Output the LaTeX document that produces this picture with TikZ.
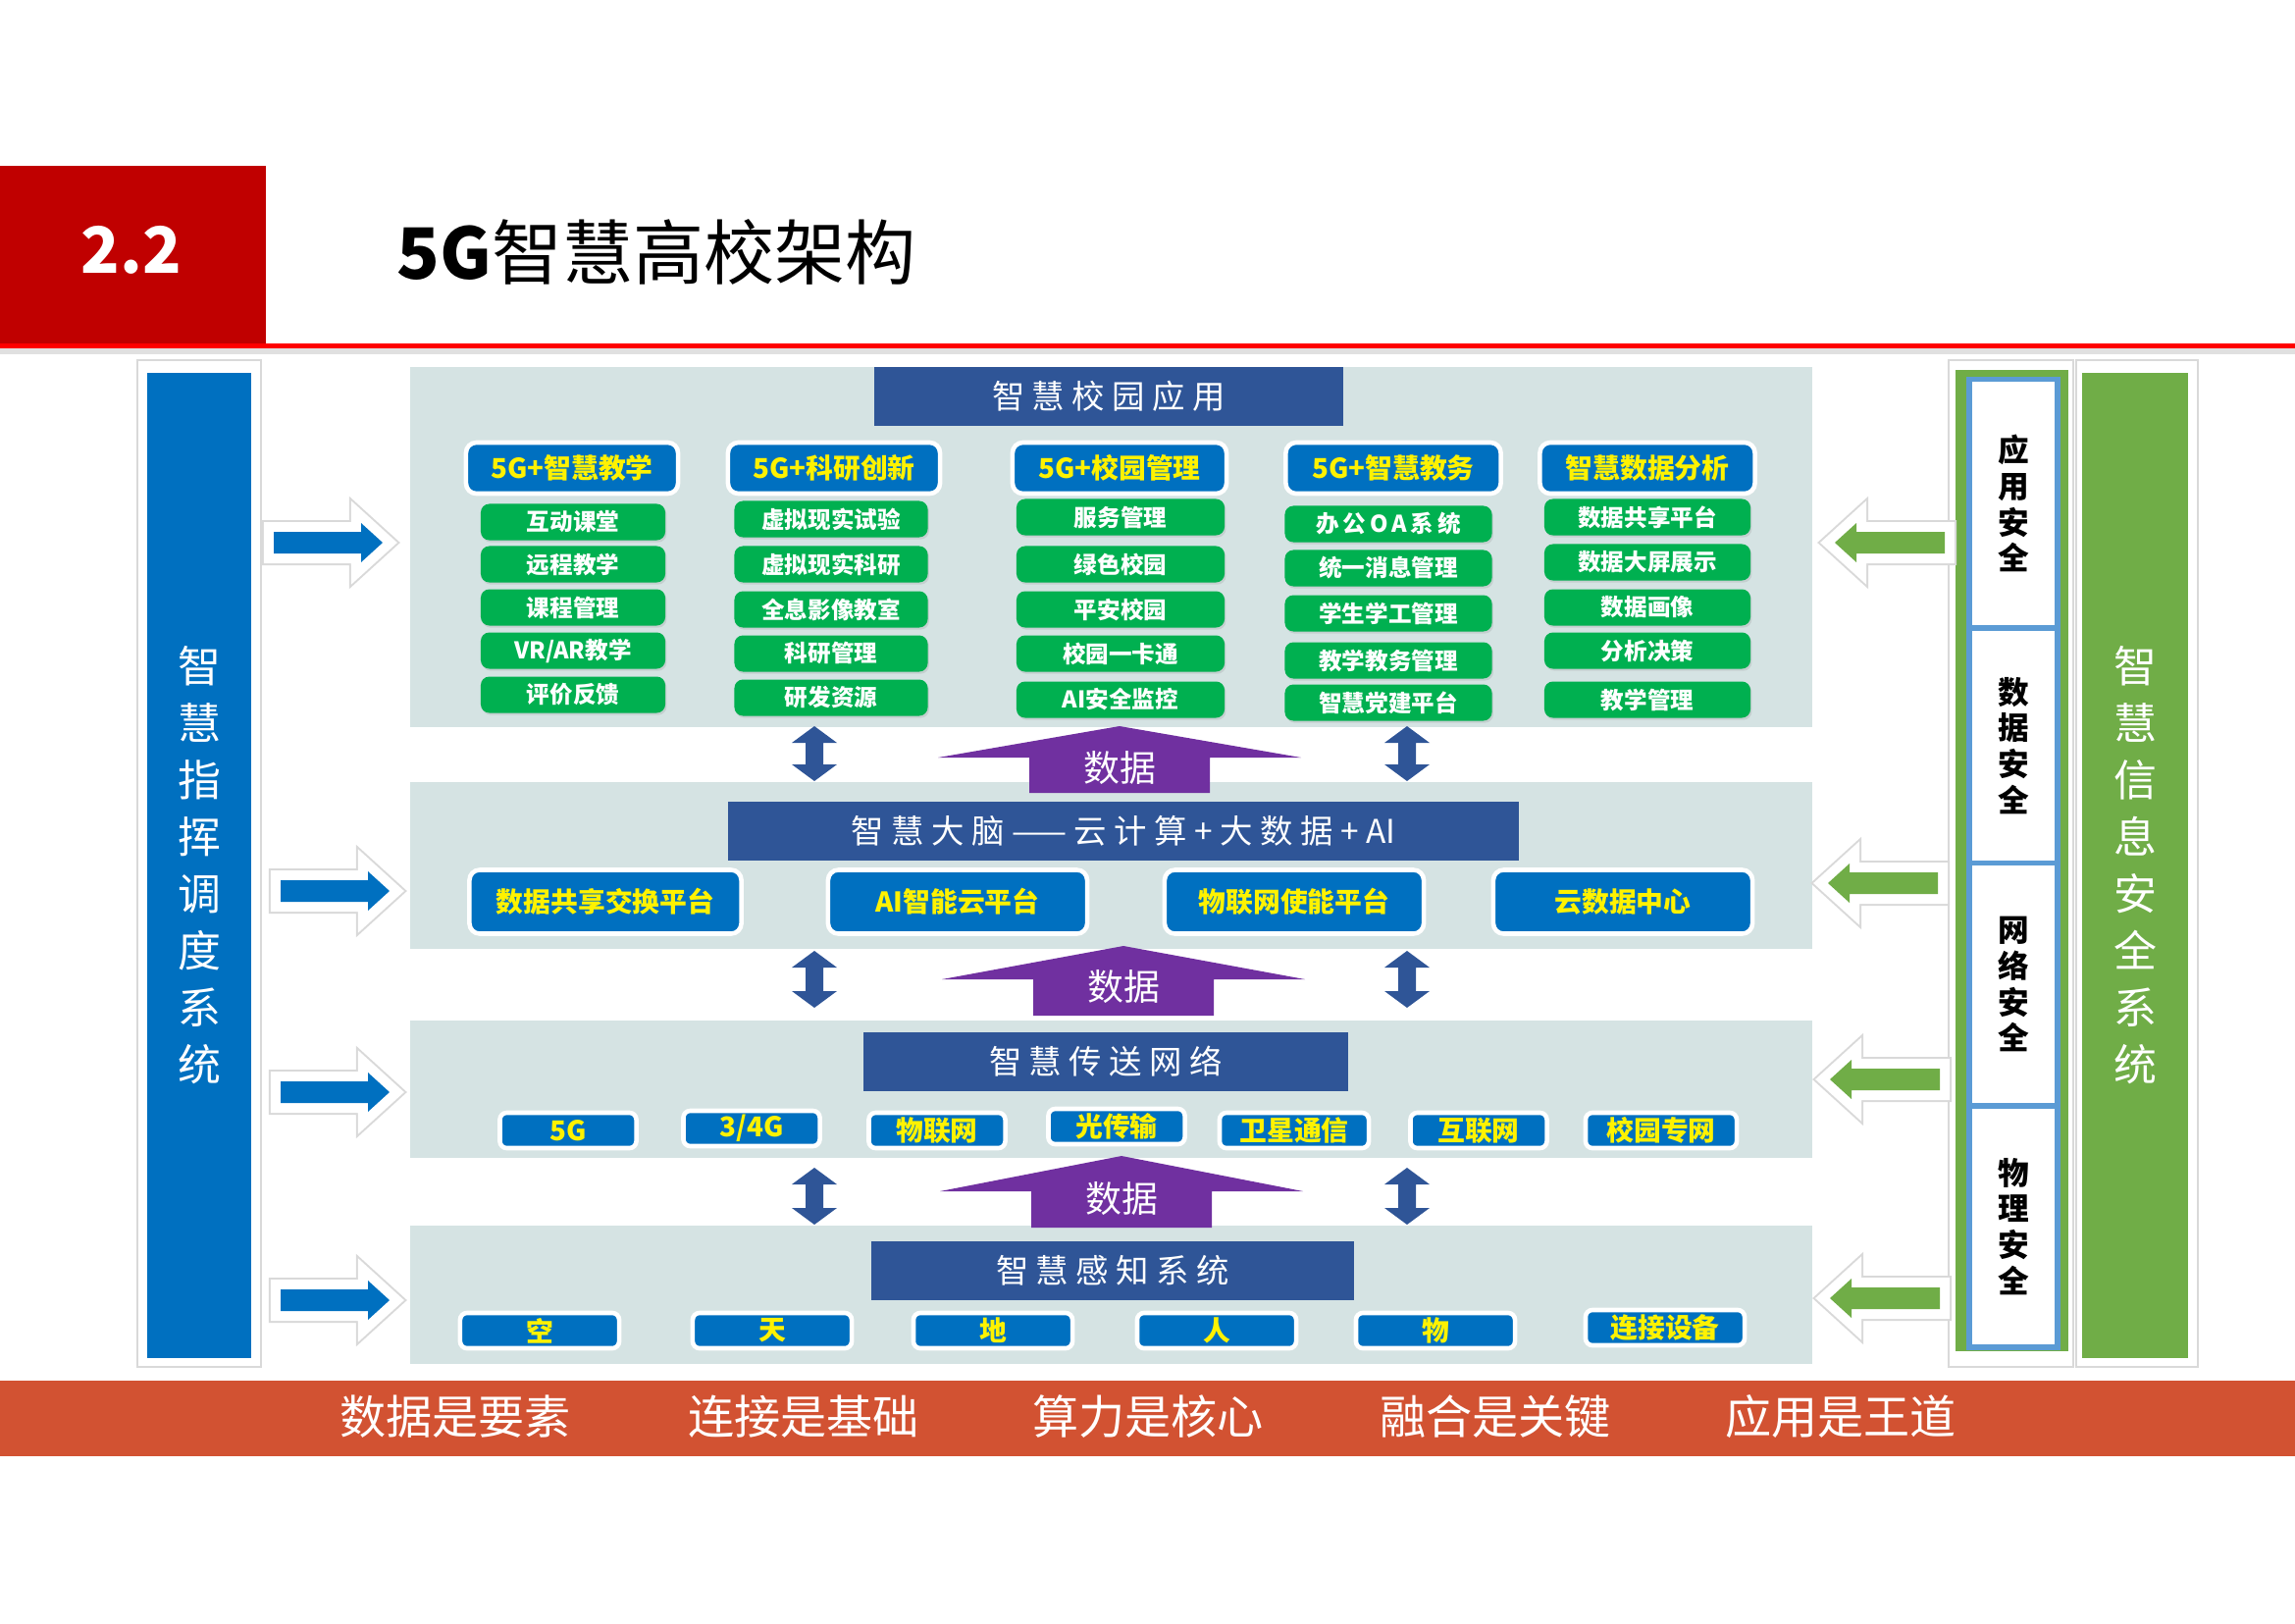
\documentclass[tikz,border=0pt]{standalone}
\usepackage{fontspec}
\setmainfont{Noto Sans CJK SC}
\usetikzlibrary{shadows}

\definecolor{titlered}{HTML}{C00000}
\definecolor{linered}{HTML}{FF0000}
\definecolor{layerbg}{HTML}{D5E3E3}
\definecolor{barblue}{HTML}{2F5597}
\definecolor{boxblue}{HTML}{0070C0}
\definecolor{itemgreen}{HTML}{00B050}
\definecolor{dataviolet}{HTML}{7030A0}
\definecolor{secgreen}{HTML}{70AD47}
\definecolor{secblue}{HTML}{5B9BD5}
\definecolor{bandred}{HTML}{D25232}

\begin{document}
\begin{tikzpicture}[x=0.01cm,y=-0.01cm]
\tikzstyle{layer} = [fill=layerbg]
\tikzstyle{bar} = [rectangle, fill=barblue, text=white, inner sep=0pt,
font=\fontsize{9.5}{11}\selectfont]
\tikzstyle{head} = [rectangle, draw=white, line width=1.3pt, fill=boxblue,
rounded corners=3pt, text=yellow, inner sep=0pt, minimum height=0.52cm,
font=\bfseries\fontsize{7.9}{9}\selectfont]
\tikzstyle{item} = [rectangle, fill=itemgreen, rounded corners=2.5pt, text=white,
inner sep=0pt, minimum height=0.37cm, font=\bfseries\fontsize{6.7}{8}\selectfont,
drop shadow={shadow xshift=0.4pt, shadow yshift=-0.6pt, opacity=0.2}]
\tikzstyle{plat} = [head, minimum height=0.65cm, minimum width=2.64cm]
\tikzstyle{net} = [head, minimum height=0.36cm, rounded corners=2pt]
\tikzstyle{updown} = [fill=barblue]
\tikzstyle{dataup} = [fill=dataviolet]
\tikzstyle{datatext} = [text=white, inner sep=0pt, font=\fontsize{10.5}{12}\selectfont]
\tikzstyle{frame} = [fill=white, draw=black!15, line width=0.6pt]
\tikzstyle{cmdarrow} = [fill=boxblue, preaction={draw=black!15, line width=0.24cm},
preaction={draw=white, line width=0.2cm}]
\tikzstyle{secarrow} = [cmdarrow, fill=secgreen]
\tikzstyle{panel} = [rectangle, inner sep=0pt, text=white, align=center,
minimum height=10.04cm, font=\fontsize{12.5}{16.5}\selectfont]
\tikzstyle{secpart} = [rectangle, fill=white, draw=secblue, line width=1.5pt,
minimum width=0.9cm, align=center, font=\bfseries\fontsize{9}{10.5}\selectfont]
\tikzstyle{motto} = [text=white, inner sep=0pt, font=\fontsize{13.4}{15}\selectfont]

\useasboundingbox (0,0) rectangle (2339,1654);

% header
\fill[titlered] (0,169) rectangle (271,350);
\node[text=white, font=\bfseries\fontsize{18.5}{22}\selectfont] (secnum) at (134,255) {2.2};
\node[anchor=west, inner sep=0pt, font=\fontsize{20.5}{24}\selectfont] (title) at (404,257) {\textbf{5G}智慧高校架构};
\fill[black!12] (0,355) rectangle (2339,361);
\fill[linered] (0,350) rectangle (2339,355);

% layer backgrounds
\fill[layer] (418,374) rectangle (1847,741);
\fill[layer] (418,797) rectangle (1847,967);
\fill[layer] (418,1040) rectangle (1847,1180);
\fill[layer] (418,1249) rectangle (1847,1390);

% layer 1
\node[bar, minimum width=4.77cm, minimum height=0.59cm] (appbar) at (1130,404) {智 慧 校 园 应 用};
\node[head, minimum width=2.16cm] (teach) at (583,477) {5G+智慧教学};
\node[head, minimum width=2.16cm] (research) at (850,477) {5G+科研创新};
\node[head, minimum width=2.18cm] (campus) at (1141,477) {5G+校园管理};
\node[head, minimum width=2.19cm] (affairs) at (1420,477) {5G+智慧教务};
\node[head, minimum width=2.19cm] (analysis) at (1679,477) {智慧数据分析};

\node[item, minimum width=1.88cm] (teach1) at (584,532) {互动课堂};
\node[item, minimum width=1.88cm] (teach2) at (584,575) {远程教学};
\node[item, minimum width=1.88cm] (teach3) at (584,619) {课程管理};
\node[item, minimum width=1.88cm] (teach4) at (584,663) {VR/AR教学};
\node[item, minimum width=1.88cm] (teach5) at (584,708) {评价反馈};

\node[item, minimum width=1.97cm] (research1) at (847,529) {虚拟现实试验};
\node[item, minimum width=1.97cm] (research2) at (847,575) {虚拟现实科研};
\node[item, minimum width=1.97cm] (research3) at (847,621) {全息影像教室};
\node[item, minimum width=1.97cm] (research4) at (847,666) {科研管理};
\node[item, minimum width=1.97cm] (research5) at (847,711) {研发资源};

\node[item, minimum width=2.12cm] (campus1) at (1142,527) {服务管理};
\node[item, minimum width=2.12cm] (campus2) at (1142,575) {绿色校园};
\node[item, minimum width=2.12cm] (campus3) at (1142,621) {平安校园};
\node[item, minimum width=2.12cm] (campus4) at (1142,666) {校园一卡通};
\node[item, minimum width=2.12cm] (campus5) at (1142,713) {AI安全监控};

\node[item, minimum width=2.11cm] (affairs1) at (1415,534) {办\,公\,O\,A\,系\,统};
\node[item, minimum width=2.11cm] (affairs2) at (1415,579) {统一消息管理};
\node[item, minimum width=2.11cm] (affairs3) at (1415,625) {学生学工管理};
\node[item, minimum width=2.11cm] (affairs4) at (1415,673) {教学教务管理};
\node[item, minimum width=2.11cm] (affairs5) at (1415,716) {智慧党建平台};

\node[item, minimum width=2.10cm] (analysis1) at (1679,527) {数据共享平台};
\node[item, minimum width=2.10cm] (analysis2) at (1679,573) {数据大屏展示};
\node[item, minimum width=2.10cm] (analysis3) at (1679,619) {数据画像};
\node[item, minimum width=2.10cm] (analysis4) at (1679,663) {分析决策};
\node[item, minimum width=2.10cm] (analysis5) at (1679,713) {教学管理};

% layer 2
\node[bar, minimum width=8.06cm, minimum height=0.6cm] (brain) at (1145,847) {智 慧 大 脑 —— 云 计 算 + 大 数 据 + AI};
\node[plat, minimum width=2.77cm] (share) at (617,919) {数据共享交换平台};
\node[plat] (aicloud) at (976,919) {AI智能云平台};
\node[plat] (iot) at (1319,919) {物联网使能平台};
\node[plat] (datacenter) at (1654,919) {云数据中心};

% layer 3
\node[bar, minimum width=4.93cm, minimum height=0.6cm] (netbar) at (1127,1082) {智 慧 传 送 网 络};
\node[net, minimum width=1.39cm] (net5g) at (579,1152) {5G};
\node[net, minimum width=1.39cm] (net4g) at (766,1150) {3/4G};
\node[net, minimum width=1.39cm] (netiot) at (955,1152) {物联网};
\node[net, minimum width=1.39cm] (netopt) at (1138,1148) {光传输};
\node[net, minimum width=1.52cm] (netsat) at (1319,1152) {卫星通信};
\node[net, minimum width=1.39cm] (netweb) at (1507,1152) {互联网};
\node[net, minimum width=1.54cm] (netlan) at (1693,1152) {校园专网};

% layer 4
\node[bar, minimum width=4.91cm, minimum height=0.6cm] (sensebar) at (1134,1295) {智 慧 感 知 系 统};
\node[net, minimum width=1.62cm] (air) at (550,1356) {空};
\node[net, minimum width=1.62cm] (sky) at (787,1356) {天};
\node[net, minimum width=1.62cm] (ground) at (1012,1356) {地};
\node[net, minimum width=1.62cm] (people) at (1240,1356) {人};
\node[net, minimum width=1.62cm] (things) at (1463,1356) {物};
\node[net, minimum width=1.62cm] (devices) at (1697,1353) {连接设备};

% data flow between layers
\fill[dataup] (1141,740) -- ++(185,32) -- ++(-93,0) -- ++(0,36) -- ++(-184,0) -- ++(0,-36) -- ++(-93,0) -- cycle;
\node[datatext] (data1) at (1141,782) {数据};
\fill[dataup] (1145,964) -- ++(185,34) -- ++(-93,0) -- ++(0,37) -- ++(-184,0) -- ++(0,-37) -- ++(-93,0) -- cycle;
\node[datatext] (data2) at (1145,1005) {数据};
\fill[dataup] (1143,1178) -- ++(185,36) -- ++(-93,0) -- ++(0,37) -- ++(-184,0) -- ++(0,-37) -- ++(-93,0) -- cycle;
\node[datatext] (data3) at (1143,1221) {数据};

\fill[updown] (830,740) -- ++(23,17) -- ++(-14,0) -- ++(0,22) -- ++(14,0) -- ++(-23,17) -- ++(-23,-17) -- ++(14,0) -- ++(0,-22) -- ++(-14,0) -- cycle;
\fill[updown] (1434,740) -- ++(23,17) -- ++(-14,0) -- ++(0,22) -- ++(14,0) -- ++(-23,17) -- ++(-23,-17) -- ++(14,0) -- ++(0,-22) -- ++(-14,0) -- cycle;
\fill[updown] (830,969) -- ++(23,17) -- ++(-14,0) -- ++(0,24) -- ++(14,0) -- ++(-23,17) -- ++(-23,-17) -- ++(14,0) -- ++(0,-24) -- ++(-14,0) -- cycle;
\fill[updown] (1434,969) -- ++(23,17) -- ++(-14,0) -- ++(0,24) -- ++(14,0) -- ++(-23,17) -- ++(-23,-17) -- ++(14,0) -- ++(0,-24) -- ++(-14,0) -- cycle;
\fill[updown] (830,1190) -- ++(23,17) -- ++(-14,0) -- ++(0,24) -- ++(14,0) -- ++(-23,17) -- ++(-23,-17) -- ++(14,0) -- ++(0,-24) -- ++(-14,0) -- cycle;
\fill[updown] (1434,1190) -- ++(23,17) -- ++(-14,0) -- ++(0,24) -- ++(14,0) -- ++(-23,17) -- ++(-23,-17) -- ++(14,0) -- ++(0,-24) -- ++(-14,0) -- cycle;

% command system (left)
\draw[frame] (140,367) rectangle (266,1393);
\node[panel, fill=boxblue, minimum width=1.06cm] (command) at (203,882) {智\\慧\\指\\挥\\调\\度\\系\\统};
\fill[cmdarrow] (279,542) -- ++(89,0) -- ++(0,-9) -- ++(22,20) -- ++(-22,20) -- ++(0,-9) -- ++(-89,0) -- cycle;
\fill[cmdarrow] (286,897) -- ++(89,0) -- ++(0,-9) -- ++(22,20) -- ++(-22,20) -- ++(0,-9) -- ++(-89,0) -- cycle;
\fill[cmdarrow] (286,1102) -- ++(89,0) -- ++(0,-9) -- ++(22,20) -- ++(-22,20) -- ++(0,-9) -- ++(-89,0) -- cycle;
\fill[cmdarrow] (286,1314) -- ++(89,0) -- ++(0,-9) -- ++(22,20) -- ++(-22,20) -- ++(0,-9) -- ++(-89,0) -- cycle;

% security system (right)
\draw[frame] (1986,367) rectangle (2113,1393);
\draw[frame] (2116,367) rectangle (2240,1393);
\fill[secgreen] (1993,377) rectangle (2108,1377);
\node[secpart, minimum height=2.53cm] (appsec) at (2052,513) {应\\用\\安\\全};
\node[secpart, minimum height=2.40cm] (datasec) at (2052,760) {数\\据\\安\\全};
\node[secpart, minimum height=2.47cm] (netsec) at (2052,1003) {网\\络\\安\\全};
\node[secpart, minimum height=2.46cm] (physec) at (2052,1250) {物\\理\\安\\全};
\node[panel, fill=secgreen, minimum width=1.07cm] (security) at (2176,882) {智\\慧\\信\\息\\安\\全\\系\\统};
\fill[secarrow] (1982,542) -- ++(-90,0) -- ++(0,-9) -- ++(-22,20) -- ++(22,20) -- ++(0,-9) -- ++(90,0) -- cycle;
\fill[secarrow] (1975,889) -- ++(-90,0) -- ++(0,-9) -- ++(-22,20) -- ++(22,20) -- ++(0,-9) -- ++(90,0) -- cycle;
\fill[secarrow] (1977,1089) -- ++(-90,0) -- ++(0,-9) -- ++(-22,20) -- ++(22,20) -- ++(0,-9) -- ++(90,0) -- cycle;
\fill[secarrow] (1977,1312) -- ++(-90,0) -- ++(0,-9) -- ++(-22,20) -- ++(22,20) -- ++(0,-9) -- ++(90,0) -- cycle;

% bottom band
\fill[bandred] (0,1407) rectangle (2339,1484);
\node[motto] (motto1) at (464,1444) {数据是要素};
\node[motto] (motto2) at (819,1444) {连接是基础};
\node[motto] (motto3) at (1170,1444) {算力是核心};
\node[motto] (motto4) at (1524,1444) {融合是关键};
\node[motto] (motto5) at (1876,1444) {应用是王道};
\end{tikzpicture}
\end{document}
